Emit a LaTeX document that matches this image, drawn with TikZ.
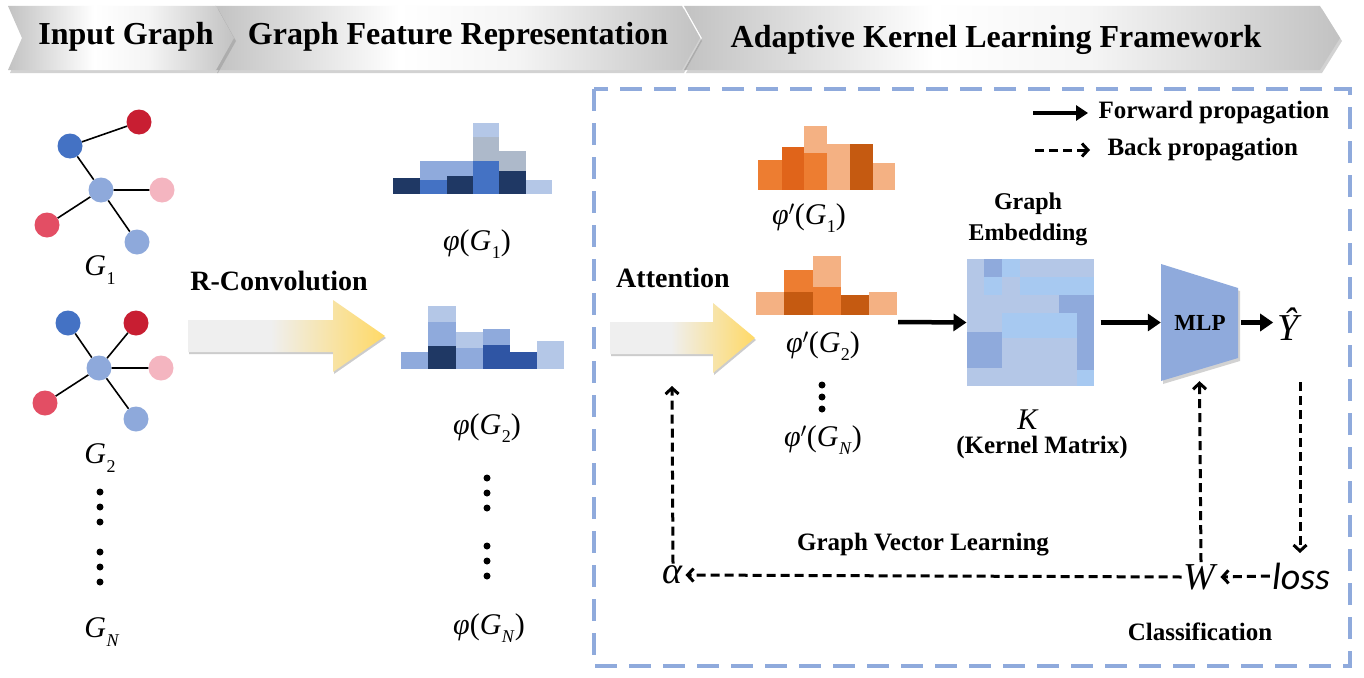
\documentclass[tikz,border=0pt]{standalone}
\usepackage{fontspec}
\setmainfont{Liberation Serif}
\newfontfamily\lossfont{Carlito}
\usetikzlibrary{shadows,arrows.meta,calc}
\definecolor{nodeblue}{HTML}{4472C4}
\definecolor{nodered}{HTML}{C81E32}
\definecolor{nodelb}{HTML}{8EA9DB}
\definecolor{nodepink}{HTML}{F4B5C0}
\definecolor{nodered2}{HTML}{E34E64}
\definecolor{hnavy}{HTML}{1F3864}
\definecolor{hmed}{HTML}{4472C4}
\definecolor{hlm}{HTML}{8FAADC}
\definecolor{hlt}{HTML}{B4C7E7}
\definecolor{hgray}{HTML}{ADB9CA}
\definecolor{hdark}{HTML}{2F55A4}
\definecolor{oa}{HTML}{ED7D31}
\definecolor{ob}{HTML}{E0641A}
\definecolor{oc}{HTML}{F4B183}
\definecolor{od}{HTML}{C55A11}
\definecolor{ksky}{HTML}{A7C9F1}
\definecolor{boxblue}{HTML}{8FAADC}
\definecolor{gold}{HTML}{FFD966}
\definecolor{arrgray}{HTML}{EFEFEF}
\definecolor{banedge}{HTML}{C2C2C2}
\pgfdeclarehorizontalshading{arrowshade}{100bp}{color(0bp)=(arrgray); color(25bp)=(arrgray); color(46bp)=(arrgray); color(75bp)=(gold); color(100bp)=(gold)}
\pgfdeclarehorizontalshading{banshade}{100bp}{color(0bp)=(banedge); color(25bp)=(banedge); color(44bp)=(white); color(56bp)=(white!96!black); color(75bp)=(banedge); color(100bp)=(banedge)}
\newcommand{\hbin}[5]{\fill[#5] (#1,#3) rectangle (#2,#4);}
\newcommand{\sbx}[1]{\raisebox{-0.28em}{\fontsize{18}{18}\selectfont #1}}
\newcommand{\mG}[1]{\textit{G}\kern0.5pt\sbx{#1}}
\newcommand{\mphi}{\textit{φ}}
\begin{document}
\begin{tikzpicture}[x=1pt,y=-1pt,
  banner/.style={shade, shading=banshade,
     drop shadow={opacity=0.35, shadow xshift=2pt, shadow yshift=-3pt}},
  bantext/.style={font=\bfseries\fontsize{32}{36}\selectfont},
  lbl/.style={font=\bfseries\fontsize{25}{29}\selectfont},
  biglbl/.style={font=\bfseries\fontsize{28}{32}\selectfont},
  mlbl/.style={font=\fontsize{30}{34}\selectfont, inner sep=0},
  bigm/.style={font=\fontsize{38}{42}\selectfont, inner sep=2},
  gn/.style={circle, minimum size=25, inner sep=0},
  edge/.style={line width=1.6},
  bigarrow/.style={shade, shading=arrowshade,
     drop shadow={opacity=0.4, shadow xshift=1pt, shadow yshift=-2pt}},
  fwd/.style={line width=4.5, -{Triangle[length=13,width=17]}},
  back/.style={line width=3, dash pattern=on 9 off 5, -{Straight Barb[length=6,width=13,line width=3]}},
  dot/.style={circle, fill=black, inner sep=0, minimum size=7}
]
\useasboundingbox (0,0) rectangle (1364,677);
\fill[white] (0,0) rectangle (1364,677);

% banners
\path[banner] (684,6) -- (1320,6) -- (1340,38) -- (1320,70) -- (684,70) -- (702,38) -- cycle;
\path[banner] (215,6) -- (682,6) -- (700,38) -- (682,70) -- (215,70) -- (232,38) -- cycle;
\path[banner] (8,6) -- (216,6) -- (234,38) -- (216,70) -- (8,70) -- (22,38) -- cycle;
\node[bantext] (t1) at (126,37) {Input Graph};
\node[bantext] (t2) at (458,37) {Graph Feature Representation};
\node[bantext] (t3) at (996,40) {Adaptive Kernel Learning Framework};

% dashed framework box
\draw[boxblue, line width=3.5, dash pattern=on 22 off 12] (594,89) rectangle (1350,666);

% graph G1
\node[gn, fill=nodeblue] (a1) at (70,146) {};
\node[gn, fill=nodered] (b1) at (139,122) {};
\node[gn, fill=nodelb] (c1) at (101,190) {};
\node[gn, fill=nodepink] (p1) at (162,190) {};
\node[gn, fill=nodered2] (r1) at (47,225) {};
\node[gn, fill=nodelb] (l1) at (137,242) {};
\draw[edge] (a1) -- (b1) (a1) -- (c1) (c1) -- (p1) (c1) -- (r1) (c1) -- (l1);
\node[mlbl] (g1) at (100,270) {\mG{1}};

% graph G2
\node[gn, fill=nodeblue] (a2) at (68,323) {};
\node[gn, fill=nodered] (b2) at (136,323) {};
\node[gn, fill=nodelb] (c2) at (99,368) {};
\node[gn, fill=nodepink] (p2) at (161,368) {};
\node[gn, fill=nodered2] (r2) at (45,403) {};
\node[gn, fill=nodelb] (l2) at (136,419) {};
\draw[edge] (c2) -- (a2) (c2) -- (b2) (c2) -- (p2) (c2) -- (r2) (c2) -- (l2);
\node[mlbl] (g2) at (100,458) {\mG{2}};

\node[dot] (d1) at (100,492) {};
\node[dot] (d2) at (100,507) {};
\node[dot] (d3) at (100,522) {};
\node[dot] (d4) at (100,552) {};
\node[dot] (d5) at (100,567) {};
\node[dot] (d6) at (100,582) {};
\node[mlbl] (gn) at (102,632) {\mG{\textit{N}}};

% R-Convolution arrow
\node[biglbl] (rc) at (279,281) {R-Convolution};
\path[bigarrow] (188,320) -- (333,320) -- (333,300) -- (385,336) -- (333,372) -- (333,352) -- (188,352) -- cycle;

% phi(G1) histogram
\hbin{393.3}{420}{178.3}{194}{hnavy}
\hbin{420}{446.7}{180}{194}{hmed}
\hbin{420}{446.7}{161}{180}{hlm}
\hbin{446.7}{473.3}{176}{194}{hnavy}
\hbin{446.7}{473.3}{161}{176}{hlm}
\hbin{473.3}{499}{160.7}{194}{hmed}
\hbin{473.3}{499}{136.7}{160.7}{hgray}
\hbin{473.3}{499}{122.7}{136.7}{hlt}
\hbin{499}{525.7}{170.7}{194}{hnavy}
\hbin{499}{525.7}{151}{170.7}{hgray}
\hbin{525.7}{551.7}{180}{194}{hlt}
\node[mlbl] (f1) at (477,244) {\mphi(\mG{1})};

% phi(G2) histogram
\hbin{401}{428.3}{352.3}{369.3}{hlm}
\hbin{428.3}{455.7}{345.7}{369.3}{hnavy}
\hbin{428.3}{455.7}{322}{345.7}{hlm}
\hbin{428.3}{455.7}{306}{322}{hlt}
\hbin{455.7}{483.3}{348.3}{369.3}{hlm}
\hbin{455.7}{483.3}{332.3}{348.3}{hlt}
\hbin{483.3}{510}{345}{369.3}{hdark}
\hbin{483.3}{510}{329.3}{345}{hlm}
\hbin{510}{537.3}{352.3}{369.3}{hdark}
\hbin{537.3}{564.3}{341}{369.3}{hlt}
\node[mlbl] (f2) at (487,428) {\mphi(\mG{2})};

\node[dot] (e1) at (487,478) {};
\node[dot] (e2) at (487,493) {};
\node[dot] (e3) at (487,508) {};
\node[dot] (e4) at (487,546) {};
\node[dot] (e5) at (487,561) {};
\node[dot] (e6) at (487,576) {};
\node[mlbl] (fn) at (489,628) {\mphi(\mG{\textit{N}})};

% Attention arrow
\node[biglbl] (att) at (673,278) {Attention};
\path[bigarrow] (610,322) -- (713,322) -- (713,303) -- (755,338) -- (713,373) -- (713,354) -- (610,354) -- cycle;
\coordinate (attb) at (672,386);

% phi'(G1)
\hbin{758.3}{781.7}{160}{190}{oa}
\hbin{781.7}{804}{146.7}{190}{ob}
\hbin{804}{827.3}{153.3}{190}{oa}
\hbin{804}{827.3}{125.7}{153.3}{oc}
\hbin{827.3}{850}{144.3}{190}{oc}
\hbin{850}{872.7}{144.3}{190}{od}
\hbin{872.7}{895.3}{162.7}{190}{oc}
\node[mlbl] (o1) at (809,218) {\mphi$'$(\mG{1})};

% phi'(G2)
\hbin{756}{784}{292.3}{315}{oc}
\hbin{784}{812.7}{292.3}{315}{od}
\hbin{784}{812.7}{270}{292.3}{oa}
\hbin{812.7}{840.7}{286.7}{315}{oa}
\hbin{812.7}{840.7}{255.7}{286.7}{oc}
\hbin{840.7}{869.3}{295}{315}{od}
\hbin{869.3}{897.3}{292.3}{315}{oc}
\node[mlbl] (o2) at (823,346) {\mphi$'$(\mG{2})};
\node[dot] (k1) at (822,385) {};
\node[dot] (k2) at (822,397) {};
\node[dot] (k3) at (822,409) {};
\node[mlbl] (on) at (823,440) {\mphi$'$(\mG{\textit{N}})};

% kernel matrix
\node[align=center, font=\bfseries\fontsize{24}{31}\selectfont] (ge) at (1028,219) {Graph\\Embedding};
\node[fill=hlt, inner sep=0, minimum width=127.6, minimum height=126.4] (K) at (1030.5,322.5) {};
\fill[hlm] (984.3,259.3) rectangle (1002.3,277.3);
\fill[ksky] (1002.3,259.3) rectangle (1020,277.3);
\fill[ksky] (984.3,277.3) rectangle (1002.3,295);
\fill[ksky] (1020,277.3) rectangle (1094.3,295);
\fill[hlm] (1059,295) rectangle (1094.3,312.7);
\fill[hlm] (1076.7,312.7) rectangle (1094.3,370);
\fill[ksky] (1076.7,370) rectangle (1094.3,385.7);
\fill[ksky] (1002.3,312.7) rectangle (1076.7,338.3);
\fill[hlm] (966.7,331.7) rectangle (1002.3,367.7);
\node[mlbl] (Klab) at (1028,420) {\textit{K}};
\node[lbl] (km) at (1042,447) {(Kernel Matrix)};

% MLP
\path[fill=hlm, drop shadow={opacity=0.35, shadow xshift=2pt, shadow yshift=-3pt}] (1161,264) -- (1238,288) -- (1238,358) -- (1161,381) -- cycle;
\node[inner sep=0, minimum width=77, minimum height=117] (mlp) at (1199.5,322.5) {};
\node[font=\bfseries\fontsize{23}{25}\selectfont] (mlpt) at (1200,323) {MLP};

\node[font=\fontsize{38}{42}\selectfont, inner sep=0] (yhat) at (1290,324) {\textit{Ŷ}};

% forward arrows
\coordinate (fs1) at (898,322);
\draw[fwd] (fs1) -- (K.west);
\draw[fwd] (K.east) ++(6,0) -- (mlp.west);
\draw[fwd] (mlp.east) ++(3,0) -- ++(32,0);

% bottom
\node[bigm, font=\lossfont\itshape\fontsize{38}{42}\selectfont] (loss) at (1301,576) {loss};
\node[bigm] (W) at (1201,577) {\textit{W}};
\node[bigm] (alpha) at (673,575) {\textit{α}};
\draw[back] (1300,382) -- (1300,553);
\draw[back] (loss.west) -- (W.east);
\draw[back] (W.north) -- (mlp.south);
\draw[back] (W.west) -- (alpha.east);
\draw[back] (alpha.north) -- (attb);
\node[lbl] (gvl) at (923,545) {Graph Vector Learning};
\node[lbl] (cls) at (1200,632) {Classification};

% legend
\coordinate (lf1) at (1033,113);
\coordinate (lf2) at (1088,113);
\coordinate (lb1) at (1035,150);
\coordinate (lb2) at (1090,150);
\draw[line width=3.5, -{Triangle[length=12,width=15]}] (lf1) -- (lf2);
\draw[back] (lb1) -- (lb2);
\node[lbl, anchor=west] (lfw) at (1095,113) {Forward propagation};
\node[lbl, anchor=west] (lbw) at (1104,150) {Back propagation};
\end{tikzpicture}
\end{document}
